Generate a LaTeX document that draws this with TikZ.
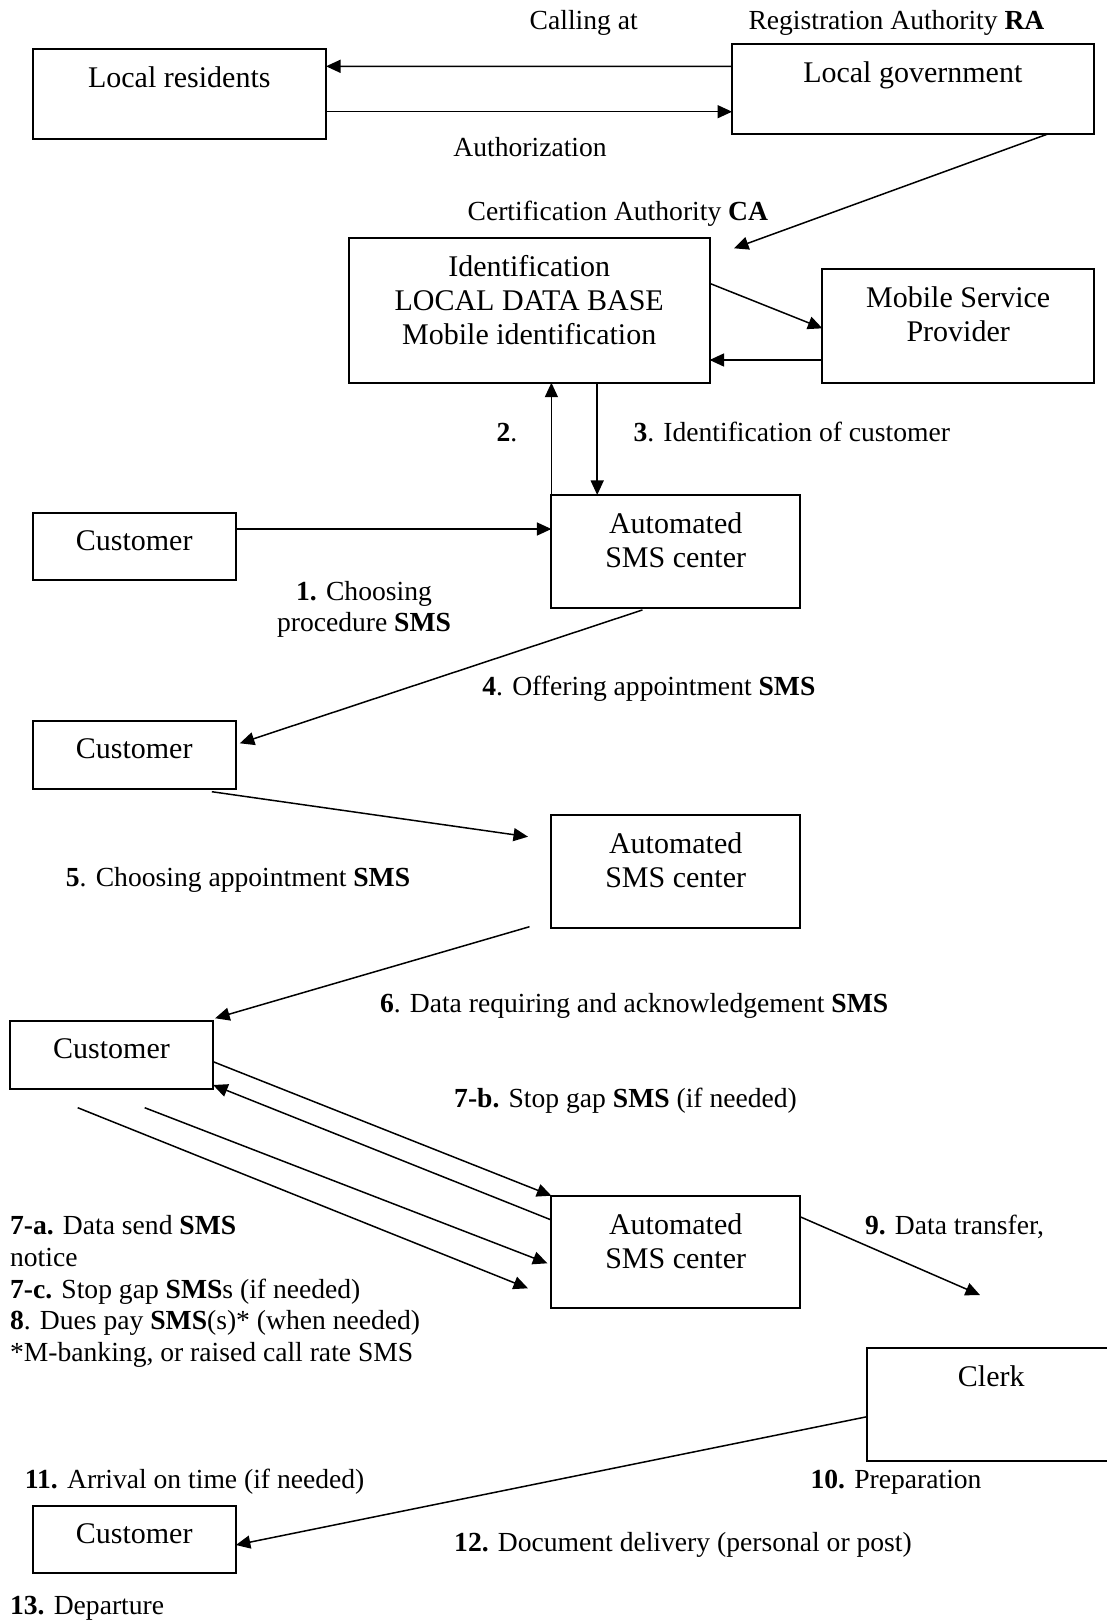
\documentclass[tikz,border=0pt]{standalone}
\usepackage{fontspec}
\setmainfont{Liberation Serif}
\usetikzlibrary{arrows.meta}
\begin{document}
\begin{tikzpicture}[x=1pt,y=-1pt,
  box/.style={draw, line width=1.9pt, inner sep=0pt, outer sep=0pt},
  boxtext/.style={font=\fontsize{30}{34}\selectfont, align=center, inner sep=0pt, anchor=north},
  lbl/.style={font=\fontsize{27.6}{31.7}\selectfont, inner sep=0pt, anchor=base west},
  arr/.style={line width=1.5pt, -{Triangle[length=14.5pt,width=13pt]}}
]
\useasboundingbox (0,0) rectangle (1107,1623);

% boxes
\node[box, minimum width=293.5pt, minimum height=90pt] (lr) at (179.3,94) {};
\node[box, minimum width=361.5pt, minimum height=90.3pt] (lg) at (912.8,88.9) {};
\node[box, minimum width=360.7pt, minimum height=145pt] (id) at (529.2,310.2) {};
\node[box, minimum width=271.6pt, minimum height=113.4pt] (msp) at (958.2,326) {};
\node[box, minimum width=248.6pt, minimum height=112.7pt] (sms1) at (675.7,551.3) {};
\node[box, minimum width=203.3pt, minimum height=67.3pt] (c1) at (134.2,546.3) {};
\node[box, minimum width=203.3pt, minimum height=68pt] (c2) at (134.2,755) {};
\node[box, minimum width=248.6pt, minimum height=113.3pt] (sms2) at (675.7,871.7) {};
\node[box, minimum width=203.3pt, minimum height=68.3pt] (c3) at (111.5,1054.8) {};
\node[box, minimum width=248.6pt, minimum height=112.6pt] (sms3) at (675.7,1252) {};
\node[box, minimum width=248.6pt, minimum height=112.7pt] (clerk) at (991.3,1404.7) {};
\node[box, minimum width=203.3pt, minimum height=67.3pt] (c4) at (134.2,1539.7) {};

% box texts
\node[boxtext] (lrt) at ([yshift=-17.5pt]lr.north) {Local residents};
\node[boxtext] (lgt) at ([yshift=-17.5pt]lg.north) {Local government};
\node[boxtext] (idt) at ([yshift=-17.5pt]id.north) {Identification\\LOCAL DATA BASE\\Mobile identification};
\node[boxtext] (mspt) at ([yshift=-17.5pt]msp.north) {Mobile Service\\Provider};
\node[boxtext] (sms1t) at ([yshift=-17.5pt]sms1.north) {Automated\\SMS center};
\node[boxtext] (c1t) at ([yshift=-17.5pt]c1.north) {Customer};
\node[boxtext] (c2t) at ([yshift=-17.5pt]c2.north) {Customer};
\node[boxtext] (sms2t) at ([yshift=-17.5pt]sms2.north) {Automated\\SMS center};
\node[boxtext] (c3t) at ([yshift=-17.5pt]c3.north) {Customer};
\node[boxtext] (sms3t) at ([yshift=-17.5pt]sms3.north) {Automated\\SMS center};
\node[boxtext] (clerkt) at ([yshift=-17.5pt]clerk.north) {Clerk};
\node[boxtext] (c4t) at ([yshift=-17.5pt]c4.north) {Customer};

% labels
\node[lbl] (calling) at (529.5,29.3) {Calling at};
\node[lbl] (ra) at (748.3,29.3) {Registration Authority \textbf{RA}};
\node[lbl] (auth) at (453.2,156) {Authorization};
\node[lbl] (ca) at (467.4,220) {Certification Authority \textbf{CA}};
\node[lbl] (l2) at (496.3,441.7) {\textbf{2}.};
\node[lbl] (l3) at (633.3,441.7) {\textbf{3}. Identification of customer};
\node[lbl, anchor=north, align=center, font=\fontsize{27.6}{30.7}\selectfont] (l1) at (364,581.1) {\textbf{1.} Choosing\\procedure \textbf{SMS}};
\node[lbl] (l4) at (482.2,695) {\textbf{4}. Offering appointment \textbf{SMS}};
\node[lbl] (l5) at (65.7,886) {\textbf{5}. Choosing appointment \textbf{SMS}};
\node[lbl] (l6) at (379.8,1012.7) {\textbf{6}. Data requiring and acknowledgement \textbf{SMS}};
\node[lbl] (l7b) at (454,1107.3) {\textbf{7-b.} Stop gap \textbf{SMS} (if needed)};
\node[lbl, anchor=north west, align=left] (l7a) at (9.9,1215.4) {\textbf{7-a.} Data send \textbf{SMS}\\notice\\\textbf{7-c.} Stop gap \textbf{SMS}s (if needed)\\\textbf{8}. Dues pay \textbf{SMS}(s)* (when needed)\\{}*M-banking, or raised call rate SMS};
\node[lbl] (l9) at (864.8,1234.3) {\textbf{9.} Data transfer,};
\node[lbl] (l11) at (24.7,1488.3) {\textbf{11.} Arrival on time (if needed)};
\node[lbl] (l10) at (810.4,1488.3) {\textbf{10.} Preparation};
\node[lbl] (l12) at (454,1551.7) {\textbf{12.} Document delivery (personal or post)};
\node[lbl] (l13) at (9.9,1614) {\textbf{13.} Departure};

% connectors
\draw[arr] ([yshift=22.6pt]lg.west) -- ([yshift=27.7pt]lr.east);
\draw[arr] ([yshift=-17.7pt]lr.east) -- ([yshift=-22.8pt]lg.west);
\coordinate (caTip) at (734,248.3);
\draw[arr] ([xshift=134.9pt]lg.south) -- (caTip);
\draw[arr] ([yshift=26.9pt]id.east) -- ([yshift=-2.3pt]msp.west);
\draw[arr] ([yshift=-34pt]msp.west) -- ([yshift=-49.8pt]id.east);
\draw[arr] (sms1.north west) -- (sms1.north west |- id.south);
\draw[arr] ([xshift=68pt]id.south) -- ([xshift=68pt]id.south |- sms1.north);
\draw[arr] ([yshift=17.3pt]c1.east) -- ([yshift=17.3pt]c1.east -| sms1.west);
\draw[arr] ([xshift=-33.3pt,yshift=-2.3pt]sms1.south) -- ([xshift=4pt,yshift=11.7pt]c2.east);
\coordinate (t5) at (528,836.7);
\draw[arr] ([xshift=77.6pt,yshift=-2.7pt]c2.south) -- (t5);
\coordinate (s6) at (529.5,926.7);
\draw[arr] (s6) -- ([xshift=2pt,yshift=2.4pt]c3.north east);
\draw[arr] ([yshift=-6.9pt]c3.east) -- (sms3.north west);
\draw[arr] ([yshift=32pt]sms3.west) -- ([yshift=-30.2pt]c3.east);
\coordinate (s7c) at (144.7,1107.7);
\draw[arr] (s7c) -- ([xshift=-4pt,yshift=-11.3pt]sms3.west);
\coordinate (s7a) at (77.7,1107.7);
\coordinate (t7a) at (528,1288.3);
\draw[arr] (s7a) -- (t7a);
\coordinate (t9) at (980,1295);
\draw[arr] ([yshift=35.3pt]sms3.east) -- (t9);
\draw[arr] ([yshift=-12pt]clerk.west) -- ([yshift=-5.3pt]c4.east);
\end{tikzpicture}
\end{document}
